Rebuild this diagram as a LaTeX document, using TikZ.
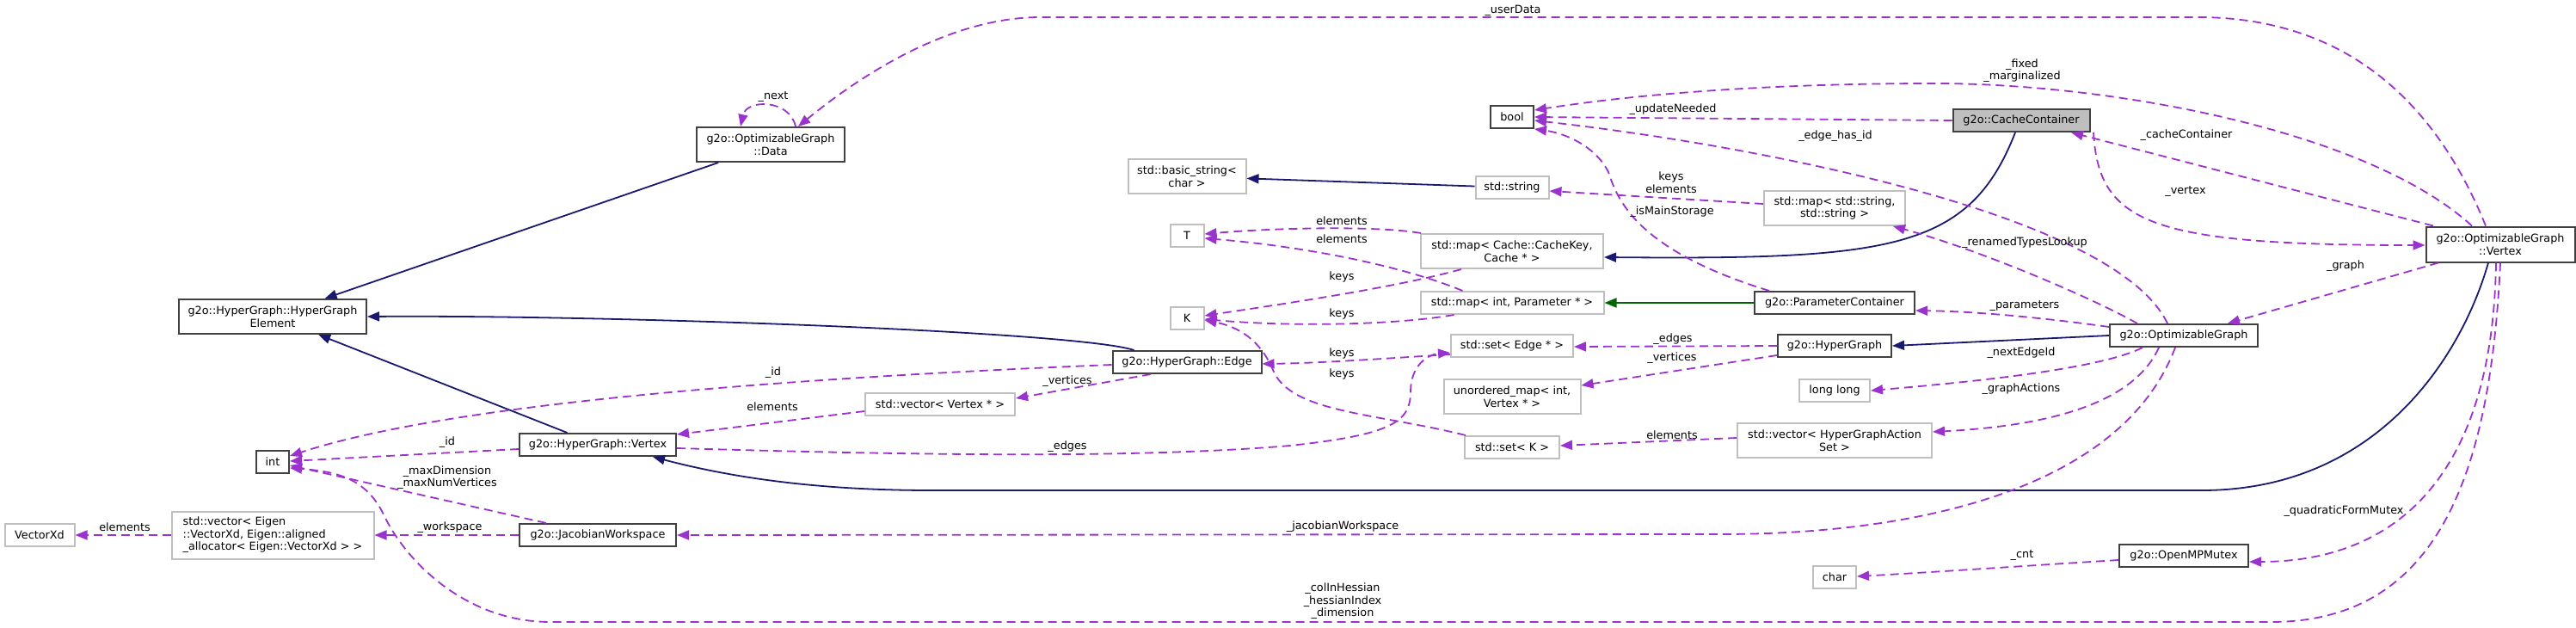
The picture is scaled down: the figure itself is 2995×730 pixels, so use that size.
\documentclass[tikz,border=0pt]{standalone}
\usepackage{fontspec}
\setmainfont{DejaVu Sans}
\usetikzlibrary{arrows.meta}
\definecolor{dpurple}{HTML}{9A32CD}
\definecolor{dnavy}{HTML}{191970}
\definecolor{dgreen}{HTML}{006400}
\definecolor{nodegray}{HTML}{BFBFBF}
\definecolor{nodedark}{HTML}{404040}
\tikzset{
  base/.style={rectangle, inner sep=0pt, fill=white, line width=2pt, font=\fontsize{12.8}{14.5}\selectfont, align=center},
  cls/.style={base, draw=nodedark},
  ext/.style={base, draw=nodegray},
  tip/.style={-{Triangle[length=14pt,width=11pt]}},
  usage/.style={tip, draw=dpurple, fill=none, line width=1.8pt, dash pattern=on 10pt off 6pt},
  inh/.style={tip, draw=dnavy, line width=1.8pt},
  prot/.style={tip, draw=dgreen, line width=1.8pt},
  lbl/.style={inner sep=0pt, font=\fontsize{12.8}{14.5}\selectfont, align=center}
}
\begin{document}
\begin{tikzpicture}[x=1pt,y=-1pt]
\useasboundingbox (0,0) rectangle (2995,730);
% nodes
\node[cls, minimum width=172pt, minimum height=40pt] (nData) at (896,168) {g2o::OptimizableGraph\\::Data};
\node[cls, minimum width=218pt, minimum height=40pt] (nHGE) at (317,368) {g2o::HyperGraph::HyperGraph\\Element};
\node[cls, minimum width=38pt, minimum height=26pt] (nInt) at (317,537) {int};
\node[cls, minimum width=182pt, minimum height=26pt] (nHGV) at (695,517) {g2o::HyperGraph::Vertex};
\node[cls, minimum width=182pt, minimum height=26pt] (nJW) at (695,622) {g2o::JacobianWorkspace};
\node[ext, minimum width=81pt, minimum height=26pt] (nVXd) at (46,622) {VectorXd};
\node[ext, minimum width=235pt, minimum height=55pt, align=left] (nVEig) at (317,622) {std::vector< Eigen\\::VectorXd, Eigen::aligned\\\_allocator< Eigen::VectorXd > >};
\node[cls, minimum width=50pt, minimum height=26pt] (nBool) at (1758,136) {bool};
\node[ext, minimum width=137pt, minimum height=40pt] (nBStr) at (1380,205) {std::basic\_string<\\char >};
\node[ext, minimum width=85pt, minimum height=26pt] (nStr) at (1758,218) {std::string};
\node[ext, minimum width=39pt, minimum height=26pt] (nT) at (1380,274) {T};
\node[ext, minimum width=212pt, minimum height=40pt] (nMapCache) at (1758,292) {std::map< Cache::CacheKey,\\Cache * >};
\node[ext, minimum width=39pt, minimum height=26pt] (nK) at (1380,370) {K};
\node[ext, minimum width=213pt, minimum height=26pt] (nMapParam) at (1758,352) {std::map< int, Parameter * >};
\node[cls, minimum width=173pt, minimum height=26pt] (nEdge) at (1380,421) {g2o::HyperGraph::Edge};
\node[ext, minimum width=174pt, minimum height=26pt] (nVecV) at (1093,470) {std::vector< Vertex * >};
\node[ext, minimum width=142pt, minimum height=26pt] (nSetEdge) at (1758,402) {std::set< Edge * >};
\node[ext, minimum width=159pt, minimum height=40pt] (nUMap) at (1758,461) {unordered\_map< int,\\Vertex * >};
\node[ext, minimum width=110pt, minimum height=26pt] (nSetK) at (1758,520) {std::set< K >};
\node[cls, fill=nodegray, minimum width=159pt, minimum height=26pt] (nCC) at (2350,140) {g2o::CacheContainer};
\node[ext, minimum width=164pt, minimum height=40pt] (nMapSS) at (2133,242) {std::map< std::string,\\std::string >};
\node[cls, minimum width=173pt, minimum height=41pt] (nOGV) at (2907,284) {g2o::OptimizableGraph\\::Vertex};
\node[cls, minimum width=186pt, minimum height=26pt] (nPC) at (2133,352) {g2o::ParameterContainer};
\node[cls, minimum width=172pt, minimum height=26pt] (nOG) at (2539,390) {g2o::OptimizableGraph};
\node[cls, minimum width=132pt, minimum height=26pt] (nHG) at (2133,402) {g2o::HyperGraph};
\node[ext, minimum width=82pt, minimum height=26pt] (nLL) at (2133,454) {long long};
\node[ext, minimum width=226pt, minimum height=40pt] (nVHGAS) at (2133,512) {std::vector< HyperGraphAction\\Set >};
\node[cls, minimum width=150pt, minimum height=26pt] (nOMP) at (2539,646) {g2o::OpenMPMutex};
\node[ext, minimum width=50pt, minimum height=26pt] (nChar) at (2133,671) {char};

% inheritance
\draw[inh] (nData) -- (nHGE);
\draw[inh] (nHGV) -- (nHGE);
\draw[inh] ([xshift=26pt]nEdge.north west) .. controls (1250,385) and (700,366) .. (nHGE.east);
\draw[inh] ([xshift=-14pt]nOGV.south) .. controls (2860,420) and (2760,570) .. (2560,570) -- (1083,570) .. controls (950,570) and (850,555) .. ([xshift=64pt]nHGV.south);
\draw[inh] ([xshift=-7pt]nCC.south) .. controls (2290,290) and (2200,302) .. ([yshift=-7pt]nMapCache.east);
\draw[inh] (nOG.west) -- (nHG.east);
\draw[prot] (nPC) -- (nMapParam);
\draw[inh] (nStr) -- (nBStr);

% usage
\draw[usage] ([xshift=29pt]nData.north) .. controls (918,115) and (868,115) .. ([xshift=-35pt]nData.north);
\draw[usage] ([xshift=-17pt]nOGV.north) .. controls (2820,90) and (2700,20) .. (2555,20) -- (1210,20) .. controls (1110,20) and (1010,80) .. ([xshift=32pt]nData.north);
\draw[usage] ([xshift=-33pt]nOGV.north) .. controls (2750,150) and (2450,97) .. (2250,97) .. controls (2050,97) and (1900,110) .. ([yshift=8pt]nBool.east);
\draw[usage] (nCC.west) -- (nBool.east);
\draw[usage] ([xshift=-19pt]nOG.north) .. controls (2460,250) and (2050,170) .. ([yshift=-4pt]nBool.east);
\draw[usage] ([xshift=-76pt]nPC.north) .. controls (1900,290) and (1880,230) .. (1870,200) .. controls (1855,170) and (1820,155) .. (nBool.south east);
\draw[usage] ([yshift=5pt]nMapSS.west) -- ([yshift=-4pt]nStr.east);
\draw[usage] ([xshift=-54pt]nOG.north) .. controls (2430,345) and (2300,290) .. ([xshift=68pt]nMapSS.south);
\draw[usage] ([xshift=-78pt]nOGV.north) -- ([xshift=58pt]nCC.south);
\draw[usage] ([xshift=84pt]nCC.south) .. controls (2440,260) and (2500,285) .. ([yshift=-1pt]nOGV.west);
\draw[usage] ([xshift=-72pt]nOGV.south) -- ([xshift=51pt]nOG.north);
\draw[usage] ([yshift=10pt]nOG.west) .. controls (2380,370) and (2300,362) .. ([yshift=-9pt]nPC.east);
\draw[usage] (nHG.west) -- ([yshift=-1pt]nSetEdge.east);
\draw[usage] ([yshift=-11pt]nHG.west) -- ([yshift=13pt]nUMap.east);
\draw[usage] ([xshift=-48pt]nOG.south) .. controls (2440,430) and (2280,445) .. (nLL.east);
\draw[usage] ([xshift=-29pt]nOG.south) .. controls (2480,470) and (2380,495) .. ([yshift=10pt]nVHGAS.east);
\draw[usage] ([yshift=3pt]nVHGAS.west) -- ([yshift=2pt]nSetK.east);
\draw[usage] ([xshift=-10pt]nOG.south) .. controls (2470,560) and (2250,621) .. (2000,621) -- (nJW.east);
\draw[usage] ([xshift=-5pt]nOGV.south) .. controls (2898,560) and (2780,653) .. ([yshift=-7pt]nOMP.east);
\draw[usage] (nOGV.south) .. controls (2895,560) and (2830,723) .. (2640,723) -- (640,723) .. controls (540,723) and (470,650) .. (446,598) .. controls (425,555) and (390,548) .. ([yshift=-7pt]nInt.east);
\draw[usage] ([yshift=-5pt]nOMP.west) .. controls (2350,658) and (2250,665) .. ([yshift=1pt]nChar.east);
\draw[usage] ([yshift=-3pt]nEdge.west) .. controls (900,440) and (520,470) .. ([yshift=7pt]nInt.east);
\draw[usage] ([yshift=-5pt]nHGV.west) -- ([yshift=1pt]nInt.east);
\draw[usage] ([xshift=-60pt]nJW.north) -- ([yshift=-4pt]nInt.east);
\draw[usage] (nJW.west) -- (nVEig.east);
\draw[usage] (nVEig.west) -- (nVXd.east);
\draw[usage] ([yshift=-8pt]nVecV.west) -- ([yshift=-2pt]nHGV.north east);
\draw[usage] ([xshift=-42pt]nEdge.south) -- ([yshift=7pt]nVecV.east);
\draw[usage] ([yshift=-4pt]nHGV.east) .. controls (1000,527) and (1300,535) .. (1500,518) .. controls (1620,505) and (1640,490) .. (1640,455) .. controls (1640,425) and (1660,412) .. ([yshift=-8pt]nSetEdge.west);
\draw[usage] ([yshift=-10pt]nSetEdge.west) .. controls (1620,416) and (1540,422) .. ([yshift=-2pt]nEdge.east);
\draw[usage] ([xshift=2pt]nSetK.north west) .. controls (1600,480) and (1500,480) .. (1480,430) .. controls (1465,395) and (1440,380) .. ([yshift=-2pt]nK.east);
\draw[usage] ([xshift=40pt]nMapParam.south west) .. controls (1620,378) and (1500,380) .. ([yshift=-1pt]nK.east);
\draw[usage] ([xshift=48pt]nMapCache.south west) .. controls (1620,335) and (1480,355) .. ([yshift=3pt]nK.east);
\draw[usage] ([xshift=1pt]nMapCache.north west) .. controls (1600,262) and (1480,265) .. ([yshift=2pt]nT.east);
\draw[usage] ([xshift=50pt]nMapParam.north west) .. controls (1620,305) and (1500,285) .. ([yshift=-3pt]nT.east);

% labels
\node[lbl] (l1) at (899,113) {\_next};
\node[lbl] (l2) at (1759,12) {\_userData};
\node[lbl] (l3) at (2351,82) {\_fixed\\\_marginalized};
\node[lbl] (l4) at (1945,127) {\_updateNeeded};
\node[lbl] (l5) at (2134,158) {\_edge\_has\_id};
\node[lbl] (l6) at (1943,212) {keys\\elements};
\node[lbl] (l7) at (1944,246) {\_isMainStorage};
\node[lbl] (l8) at (2542,157) {\_cacheContainer};
\node[lbl] (l9) at (2541,223) {\_vertex};
\node[lbl] (l10) at (2354,282) {\_renamedTypesLookup};
\node[lbl] (l11) at (2727,309) {\_graph};
\node[lbl] (l12) at (2354,356) {\_parameters};
\node[lbl] (l13) at (1945,394) {\_edges};
\node[lbl] (l14) at (1944,416) {\_vertices};
\node[lbl] (l15) at (2350,410) {\_nextEdgeId};
\node[lbl] (l16) at (2350,452) {\_graphActions};
\node[lbl] (l17) at (1944,506) {elements};
\node[lbl] (l18) at (1561,612) {\_jacobianWorkspace};
\node[lbl] (l19) at (2725,594) {\_quadraticFormMutex};
\node[lbl] (l20) at (2351,646) {\_cnt};
\node[lbl] (l21) at (1561,699) {\_colInHessian\\\_hessianIndex\\\_dimension};
\node[lbl] (l22) at (899,433) {\_id};
\node[lbl] (l23) at (520,514) {\_id};
\node[lbl] (l24) at (520,555) {\_maxDimension\\\_maxNumVertices};
\node[lbl] (l25) at (523,613) {\_workspace};
\node[lbl] (l26) at (145,613) {elements};
\node[lbl] (l27) at (898,473) {elements};
\node[lbl] (l28) at (1241,443) {\_vertices};
\node[lbl] (l29) at (1241,519) {\_edges};
\node[lbl] (l30) at (1560,411) {keys};
\node[lbl] (l31) at (1560,435) {keys};
\node[lbl] (l32) at (1560,365) {keys};
\node[lbl] (l33) at (1560,322) {keys};
\node[lbl] (l34) at (1560,257) {elements};
\node[lbl] (l35) at (1560,278) {elements};
\end{tikzpicture}
\end{document}
